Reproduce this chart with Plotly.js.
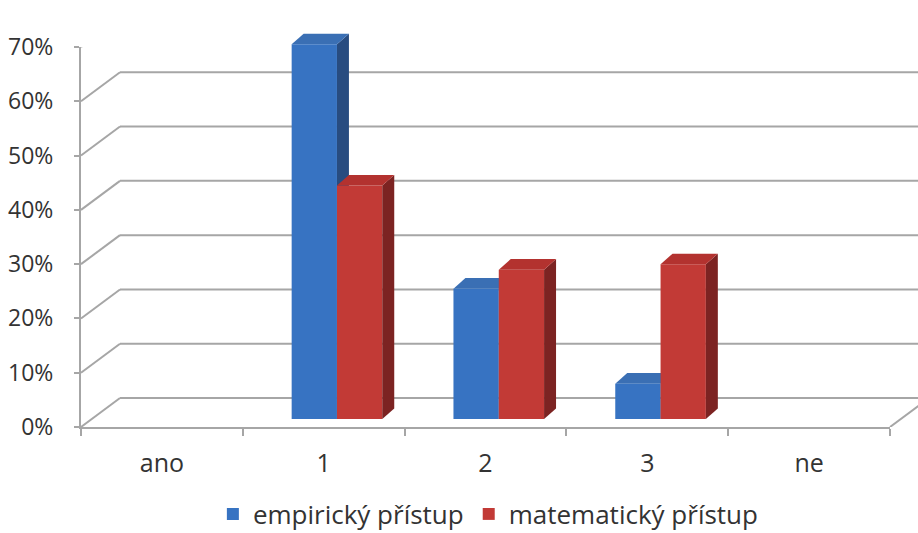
<!DOCTYPE html>
<html>
<head>
<meta charset="utf-8">
<script src="https://cdn.plot.ly/plotly-3.0.1.min.js"></script>
<style>
  html, body { margin: 0; padding: 0; background: #ffffff; }
  #chart { width: 918px; height: 533px; }
</style>
</head>
<body>
<div id="chart"></div>
<script>
// Categories along the floor and the two series (shares in %)
const categories = ['ano', '1', '2', '3', 'ne'];
const empirickyPristup = [0, 69, 24, 6.5, 0];
const matematickyPristup = [0, 43, 27.5, 28.5, 0];
const seriesNames = ['empirický přístup', 'matematický přístup'];

// Value axis ticks
const yTickVals = [0, 10, 20, 30, 40, 50, 60, 70];
const yTickText = ['0%', '10%', '20%', '30%', '40%', '50%', '60%', '70%'];

// Look of the pseudo-3D box
const W = 918, H = 533;
const gridColor = '#a6a6a6';
const textColor = '#333333';
const fontFamily = '"Open Sans", "Noto Sans", sans-serif';
const wallDX = 39, wallDY = 29;        // depth of the wall/floor in px
const barW = 0.28;                     // bar width in category units
const barOffsets = [-0.198, 0.082];    // left edge of each bar relative to category centre
const barDX = 0.074, barDY = 1.95;     // bar depth in (category units, % units)

const colors = {
  blue: { front: '#3773c2', top: '#3a6fb4', side: '#284c80' },
  red:  { front: '#c23a36', top: '#b3322f', side: '#7c2322' }
};

// px -> paper fraction helper for axis domains
const fy = px => (H - px) / H;

const traces = [
  {
    type: 'bar', name: seriesNames[0], x: categories, y: empirickyPristup,
    xaxis: 'x', yaxis: 'y2', width: barW, offset: barOffsets[0],
    marker: { color: colors.blue.front, line: { width: 0 } }, hoverinfo: 'skip'
  },
  {
    type: 'bar', name: seriesNames[1], x: categories, y: matematickyPristup,
    xaxis: 'x', yaxis: 'y2', width: barW, offset: barOffsets[1],
    marker: { color: colors.red.front, line: { width: 0 } }, hoverinfo: 'skip'
  },
  // keeps the labelled value axis subplot alive
  { type: 'scatter', x: [], y: [], xaxis: 'x', yaxis: 'y', showlegend: false, hoverinfo: 'skip' }
];

const shapes = [];

// Back wall gridlines and side-wall diagonals, one per value tick
yTickVals.forEach(v => {
  shapes.push({
    type: 'line', layer: 'below',
    xref: 'x domain', xsizemode: 'pixel', xanchor: 0, x0: wallDX, x1: W,
    yref: 'y', ysizemode: 'pixel', yanchor: v, y0: wallDY, y1: wallDY,
    line: { color: gridColor, width: 2 }
  });
  shapes.push({
    type: 'line', layer: 'below',
    xref: 'x domain', xsizemode: 'pixel', xanchor: 0, x0: 0, x1: wallDX,
    yref: 'y', ysizemode: 'pixel', yanchor: v, y0: 0, y1: wallDY,
    line: { color: gridColor, width: 2 }
  });
});
// Right edge of the floor
shapes.push({
  type: 'line', layer: 'below',
  xref: 'x domain', xsizemode: 'pixel', xanchor: 1, x0: 0, x1: wallDX,
  yref: 'y', ysizemode: 'pixel', yanchor: 0, y0: 0, y1: wallDY,
  line: { color: gridColor, width: 2 }
});

// Top and side faces of each bar, in the bar axis' data space
function addFaces(values, offset, pal, layer) {
  values.forEach((v, i) => {
    if (!v) return;
    const x0 = i + offset, x1 = x0 + barW;
    shapes.push({
      type: 'path', layer: layer, xref: 'x', yref: 'y2',
      path: `M${x1},0 L${x1},${v} L${x1 + barDX},${v + barDY} L${x1 + barDX},${barDY} Z`,
      fillcolor: pal.side, line: { width: 0 }
    });
    shapes.push({
      type: 'path', layer: layer, xref: 'x', yref: 'y2',
      path: `M${x0},${v} L${x1},${v} L${x1 + barDX},${v + barDY} L${x0 + barDX},${v + barDY} Z`,
      fillcolor: pal.top, line: { width: 0 }
    });
  });
}
addFaces(empirickyPristup, barOffsets[0], colors.blue, 'below');
addFaces(matematickyPristup, barOffsets[1], colors.red, 'above');

const layout = {
  width: W, height: H,
  margin: { l: 0, r: 0, t: 0, b: 0, pad: 0, autoexpand: false },
  paper_bgcolor: '#ffffff',
  plot_bgcolor: 'rgba(0,0,0,0)',
  barmode: 'overlay',
  showlegend: true,
  font: { family: fontFamily, size: 23, color: textColor },
  xaxis: {
    type: 'category', categoryorder: 'array', categoryarray: categories,
    domain: [81 / W, 890 / W], range: [-0.5, 4.5], anchor: 'y',
    showline: true, linecolor: gridColor, linewidth: 2,
    ticks: 'outside', tickson: 'boundaries', ticklen: 7, tickwidth: 2, tickcolor: gridColor,
    ticklabelstandoff: 13, showgrid: false, zeroline: false, fixedrange: true,
    tickfont: { family: fontFamily, size: 25, color: textColor }
  },
  yaxis: {
    domain: [fy(427), fy(47)], range: [0, 70], anchor: 'x',
    tickmode: 'array', tickvals: yTickVals, ticktext: yTickText,
    showline: true, linecolor: gridColor, linewidth: 2,
    ticks: 'outside', ticklen: 5, tickwidth: 2, tickcolor: gridColor,
    ticklabelstandoff: 16, showgrid: false, zeroline: false, fixedrange: true,
    tickfont: { family: fontFamily, size: 23, color: textColor }
  },
  yaxis2: {
    domain: [fy(419), fy(419 - 7.5 * 54.3)], range: [0, 75], anchor: 'x',
    visible: false, fixedrange: true
  },
  legend: {
    orientation: 'h',
    x: 0.532, xanchor: 'center', y: fy(514), yanchor: 'middle',
    font: { family: fontFamily, size: 26, color: textColor },
    itemwidth: 30, tracegroupgap: 0, bgcolor: 'rgba(0,0,0,0)'
  },
  shapes: shapes
};

Plotly.newPlot('chart', traces, layout, { staticPlot: true, displayModeBar: false });
</script>
</body>
</html>
